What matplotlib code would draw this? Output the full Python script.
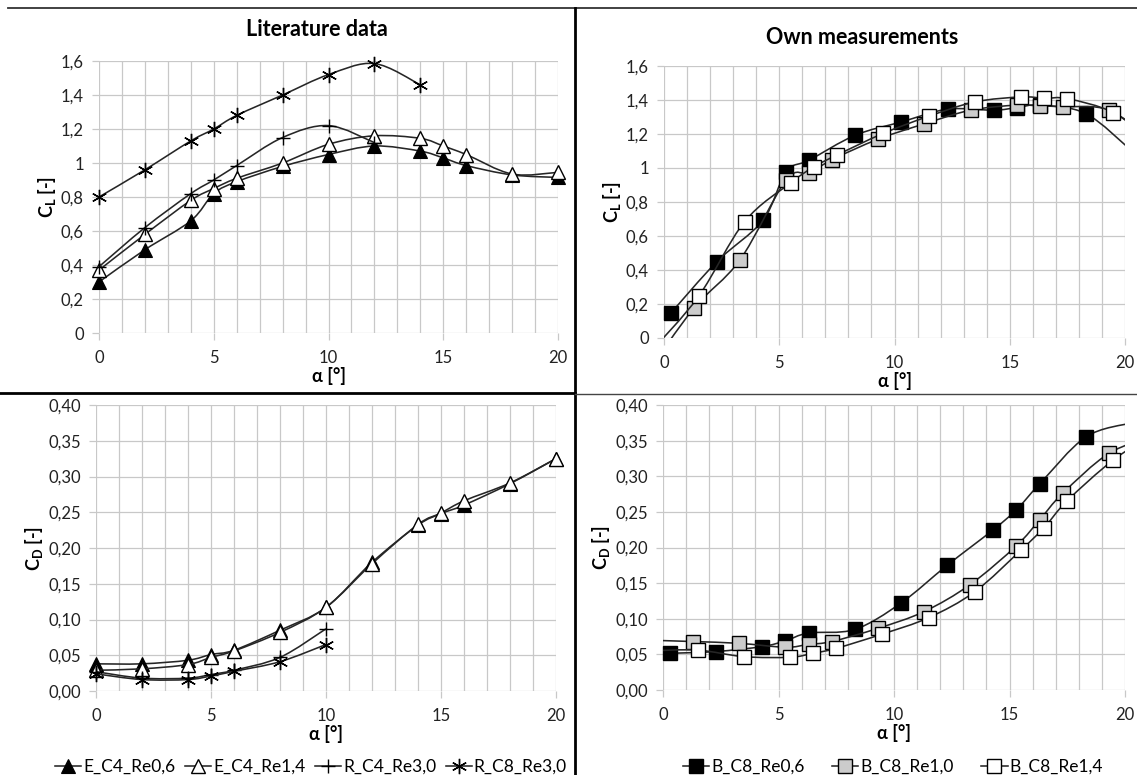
import numpy as np
import matplotlib
matplotlib.use("Agg")
import matplotlib.pyplot as plt
from matplotlib.path import Path
from matplotlib.patches import PathPatch
from matplotlib.lines import Line2D
from matplotlib.ticker import FuncFormatter, MultipleLocator

plt.rcParams['font.family'] = ['Lato', 'DejaVu Sans']
plt.rcParams['mathtext.fontset'] = 'custom'
plt.rcParams['mathtext.rm'] = 'Lato'
plt.rcParams['mathtext.bf'] = 'Lato:bold'

# ---------------- data ----------------
# Literature data
alpha_E = [0, 2, 4, 5, 6, 8, 10, 12, 14, 15, 16, 18, 20]
cl_E_Re06 = [0.30, 0.49, 0.66, 0.82, 0.89, 0.98, 1.05, 1.10, 1.07, 1.03, 0.985, 0.93, 0.915]
cl_E_Re14 = [0.37, 0.58, 0.78, 0.85, 0.91, 1.00, 1.11, 1.16, 1.145, 1.10, 1.05, 0.935, 0.945]
cd_E_Re06 = [0.038, 0.038, 0.043, 0.051, 0.057, 0.085, 0.117, 0.180, 0.232, 0.248, 0.260, 0.290, 0.325]
cd_E_Re14 = [0.029, 0.031, 0.037, 0.047, 0.056, 0.082, 0.117, 0.178, 0.233, 0.249, 0.266, 0.291, 0.325]

alpha_RC4_cl = [0, 2, 4, 5, 6, 8, 10, 12]
cl_RC4_Re30 = [0.39, 0.62, 0.82, 0.90, 0.985, 1.15, 1.22, 1.12]
alpha_RC4_cd = [0, 2, 4, 5, 6, 8, 10]
cd_RC4_Re30 = [0.027, 0.018, 0.018, 0.023, 0.029, 0.047, 0.087]

alpha_RC8_cl = [0, 2, 4, 5, 6, 8, 10, 12, 14]
cl_RC8_Re30 = [0.80, 0.96, 1.13, 1.20, 1.28, 1.40, 1.52, 1.585, 1.46]
alpha_RC8_cd = [0, 2, 4, 5, 6, 8, 10]
cd_RC8_Re30 = [0.024, 0.016, 0.016, 0.021, 0.0275, 0.041, 0.065]

# Own measurements (first / last points lie just outside the plotted range)
alpha_B06 = [0.3, 2.3, 4.3, 5.3, 6.3, 8.3, 10.3, 12.3, 14.3, 15.3, 16.3, 18.3, 20.3]
cl_B06 = [0.147, 0.45, 0.694, 0.978, 1.046, 1.193, 1.271, 1.346, 1.34, 1.355, 1.37, 1.32, 1.10]
cd_B06 = [0.0515, 0.054, 0.061, 0.069, 0.080, 0.085, 0.122, 0.175, 0.225, 0.253, 0.289, 0.355, 0.375]

alpha_B10 = [-0.7, 1.3, 3.3, 5.3, 6.3, 7.3, 9.3, 11.3, 13.3, 15.3, 16.3, 17.3, 19.3, 21.3]
cl_B10 = [-0.20, 0.176, 0.46, 0.93, 0.97, 1.05, 1.17, 1.26, 1.34, 1.37, 1.365, 1.36, 1.34, 1.14]
cd_B10 = [0.070, 0.068, 0.0655, 0.060, 0.064, 0.068, 0.0865, 0.110, 0.148, 0.2025, 0.2386, 0.276, 0.332, 0.357]

alpha_B14 = [-0.5, 1.5, 3.5, 5.5, 6.5, 7.5, 9.5, 11.5, 13.5, 15.5, 16.5, 17.5, 19.5, 21.5]
cl_B14 = [-0.07, 0.245, 0.685, 0.913, 1.007, 1.076, 1.203, 1.305, 1.389, 1.418, 1.41, 1.408, 1.326, 1.14]
cd_B14 = [0.055, 0.056, 0.0468, 0.046, 0.0515, 0.0585, 0.0786, 0.1015, 0.138, 0.1965, 0.228, 0.2657, 0.323, 0.365]

lit_labels = ['E_C4_Re0,6', 'E_C4_Re1,4', 'R_C4_Re3,0', 'R_C8_Re3,0']
own_labels = ['B_C8_Re0,6', 'B_C8_Re1,0', 'B_C8_Re1,4']

# ---------------- styling ----------------
W, H = 1137, 775
LINE_C = '#262626'
GRID_C = '#c8c8c8'
FS = 12
LFS = 12.5

styles_lit = [
    dict(marker='^', ms=9.5, mfc='black', mec='black', mew=0.8),
    dict(marker='^', ms=9.5, mfc='white', mec='black', mew=1.0),
    dict(marker='+', ms=10, mfc='none', mec='black', mew=1.0),
    dict(marker=(6, 2, 0), ms=11, mfc='none', mec='black', mew=1.0),
]
styles_own = [
    dict(marker='s', ms=10, mfc='black', mec='black', mew=1.0),
    dict(marker='s', ms=10, mfc='#cccccc', mec='black', mew=1.0),
    dict(marker='s', ms=10, mfc='white', mec='black', mew=1.0),
]


def smooth_path(x, y):
    pts = np.column_stack([np.asarray(x, float), np.asarray(y, float)])
    n = len(pts)
    verts = [pts[0]]
    codes = [Path.MOVETO]
    for i in range(n - 1):
        p0 = pts[i - 1] if i > 0 else pts[i]
        p1 = pts[i]
        p2 = pts[i + 1]
        p3 = pts[i + 2] if i + 2 < n else pts[i + 1]
        c1 = p1 + (p2 - p0) / 6.0
        c2 = p2 - (p3 - p1) / 6.0
        verts += [c1, c2, p2]
        codes += [Path.CURVE4] * 3
    return Path(verts, codes)


def series(ax, x, y, style, z):
    patch = PathPatch(smooth_path(x, y), facecolor='none', edgecolor=LINE_C,
                      lw=1.15, zorder=z, transform=ax.transData)
    ax.add_patch(patch)
    x0, x1 = ax.get_xlim()
    y0, y1 = ax.get_ylim()
    xs = [a for a, b in zip(x, y) if x0 <= a <= x1 and y0 <= b <= y1]
    ys = [b for a, b in zip(x, y) if x0 <= a <= x1 and y0 <= b <= y1]
    ax.plot(xs, ys, linestyle='none', zorder=z + 0.5, clip_on=False, **style)


def axes_px(fig, left, right, top, bottom):
    return fig.add_axes([left / W, 1 - bottom / H, (right - left) / W, (bottom - top) / H])


def comma_fmt(decimals):
    def f(v, pos):
        if decimals is None:
            s = ('%.1f' % v)
            if s.endswith('.0'):
                s = s[:-2]
        else:
            s = ('%.' + str(decimals) + 'f') % v
        return s.replace('.', ',')
    return FuncFormatter(f)


def style_axes(ax, ymax, ystep, ydec, ylabel):
    ax.set_xlim(0, 20)
    ax.set_ylim(0, ymax)
    ax.xaxis.set_major_locator(MultipleLocator(5))
    ax.xaxis.set_minor_locator(MultipleLocator(1))
    ax.yaxis.set_major_locator(MultipleLocator(ystep))
    ax.yaxis.set_major_formatter(comma_fmt(ydec))
    ax.grid(True, which='both', axis='x', color=GRID_C, lw=0.9)
    ax.grid(True, which='major', axis='y', color=GRID_C, lw=0.9)
    ax.set_axisbelow(True)
    for s in ax.spines.values():
        s.set_visible(False)
    ax.tick_params(axis='x', which='major', length=5, color=GRID_C, width=0.9,
                   labelsize=FS, pad=7, labelcolor='#222222')
    ax.tick_params(axis='x', which='minor', length=0)
    ax.tick_params(axis='y', which='major', length=5, color=GRID_C, width=0.9,
                   labelsize=FS, pad=6, labelcolor='#222222')
    ax.set_xlabel('α [°]', fontsize=13, fontweight='bold', labelpad=1)
    ax.set_ylabel(ylabel, fontsize=13, fontweight='bold', labelpad=2)


fig = plt.figure(figsize=(W / 100, H / 100), dpi=100)

# ---- top-left: literature CL
ax1 = axes_px(fig, 99, 558, 61, 333)
style_axes(ax1, 1.6, 0.2, None, r'C$_\mathbf{L}$ [-]')
series(ax1, alpha_E, cl_E_Re06, styles_lit[0], 2)
series(ax1, alpha_E, cl_E_Re14, styles_lit[1], 3)
series(ax1, alpha_RC4_cl, cl_RC4_Re30, styles_lit[2], 4)
series(ax1, alpha_RC8_cl, cl_RC8_Re30, styles_lit[3], 5)
ax1.set_title('Literature data', fontsize=15.5, fontweight='bold', pad=18, x=0.475)

# ---- top-right: own CL
ax2 = axes_px(fig, 664, 1125, 66, 338)
style_axes(ax2, 1.6, 0.2, None, r'C$_\mathbf{L}$ [-]')
series(ax2, alpha_B06, cl_B06, styles_own[0], 2)
series(ax2, alpha_B10, cl_B10, styles_own[1], 3)
series(ax2, alpha_B14, cl_B14, styles_own[2], 4)
ax2.set_title('Own measurements', fontsize=15.5, fontweight='bold', pad=16, x=0.43)

# ---- bottom-left: literature CD
ax3 = axes_px(fig, 96, 556, 405, 691)
style_axes(ax3, 0.40, 0.05, 2, r'C$_\mathbf{D}$ [-]')
series(ax3, alpha_E, cd_E_Re06, styles_lit[0], 2)
series(ax3, alpha_E, cd_E_Re14, styles_lit[1], 3)
series(ax3, alpha_RC4_cd, cd_RC4_Re30, styles_lit[2], 4)
series(ax3, alpha_RC8_cd, cd_RC8_Re30, styles_lit[3], 5)

# ---- bottom-right: own CD
ax4 = axes_px(fig, 663, 1125, 405, 690)
style_axes(ax4, 0.40, 0.05, 2, r'C$_\mathbf{D}$ [-]')
series(ax4, alpha_B06, cd_B06, styles_own[0], 2)
series(ax4, alpha_B10, cd_B10, styles_own[1], 3)
series(ax4, alpha_B14, cd_B14, styles_own[2], 4)

# ---- legends
h_lit = [Line2D([], [], color=LINE_C, lw=1.15, **st) for st in styles_lit]
h_own = [Line2D([], [], color=LINE_C, lw=1.15, **st) for st in styles_own]
fig.legend(h_lit, lit_labels, loc='center', bbox_to_anchor=(311 / W, 1 - 767 / H),
           ncol=4, frameon=False, fontsize=LFS, handlelength=1.5, handletextpad=0.12,
           columnspacing=0.55, borderpad=0, borderaxespad=0)
fig.legend(h_own, own_labels, loc='center', bbox_to_anchor=(893 / W, 1 - 767 / H),
           ncol=3, frameon=False, fontsize=LFS, handlelength=1.5, handletextpad=0.12,
           columnspacing=1.6, borderpad=0, borderaxespad=0)

# ---- frame lines between panels
def fline(x0, y0, x1, y1, lw, c):
    fig.add_artist(Line2D([x0 / W, x1 / W], [1 - y0 / H, 1 - y1 / H],
                          transform=fig.transFigure, lw=lw, color=c))

fline(8, 8, W, 8, 1.3, '#333333')
fline(575, 8, 575, H, 2.0, 'black')
fline(0, 393, 575, 393, 2.0, 'black')
fline(575, 394, W, 394, 1.0, '#444444')

fig.savefig('out.png', dpi=100)
